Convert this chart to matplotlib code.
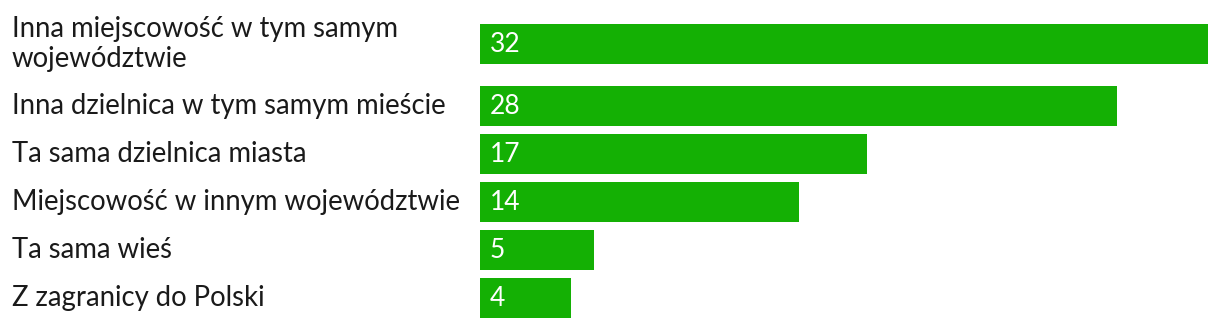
import matplotlib.pyplot as plt
from matplotlib.transforms import blended_transform_factory

plt.rcParams['font.family'] = ['Lato', 'DejaVu Sans']

kategorie = [
    "Inna miejscowość w tym samym\nwojewództwie",
    "Inna dzielnica w tym samym mieście",
    "Ta sama dzielnica miasta",
    "Miejscowość w innym województwie",
    "Ta sama wieś",
    "Z zagranicy do Polski",
]
wartosci = [32, 28, 17, 14, 5, 4]

kolor = '#14b004'
W, H = 1220, 328

# wiersze: 48 px na jedną linię etykiety, 76 px na dwie
pozycje = []
gora = 6
for k in kategorie:
    wys = 48 if k.count("\n") == 0 else 76
    pozycje.append(gora + wys / 2)
    gora += wys

fig = plt.figure(figsize=(W / 100, H / 100), dpi=100)
ax = fig.add_axes([480 / W, 0, (1208 - 480) / W, 1])
ax.barh(pozycje, wartosci, height=40, color=kolor)
ax.set_xlim(0, max(wartosci))
ax.set_ylim(H, 0)
ax.axis('off')

tr = blended_transform_factory(fig.transFigure, ax.transData)
for y, k, v in zip(pozycje, kategorie, wartosci):
    ax.text(12 / W, y, k, transform=tr, ha='left', va='center',
            fontsize=19.8, color='#1a1a1a', linespacing=1.22)
    ax.text(10 / 22.75, y, str(v), ha='left', va='center',
            fontsize=19, color='white')

fig.savefig('out.png', dpi=100)
